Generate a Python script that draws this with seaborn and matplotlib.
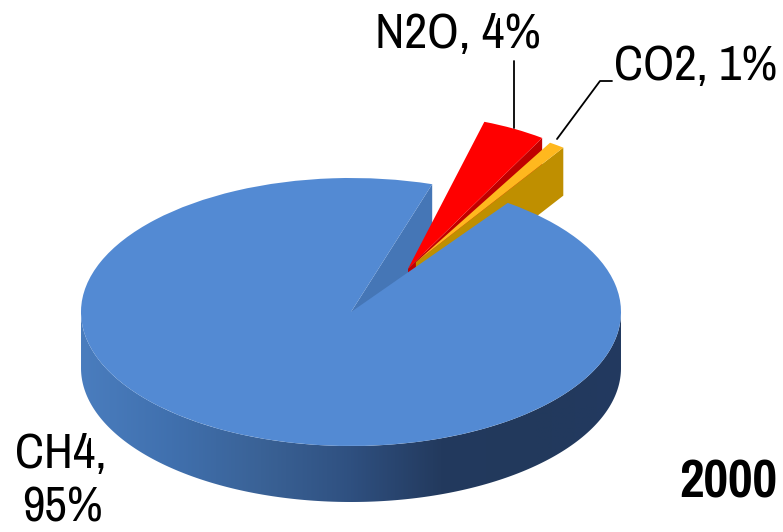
import matplotlib
matplotlib.use("Agg")
import matplotlib.pyplot as plt
import numpy as np
import seaborn as sns
from matplotlib.colors import LinearSegmentedColormap
from matplotlib.lines import Line2D
from matplotlib.patches import Polygon
from matplotlib.transforms import Affine2D

# Emissions share by gas
gases = ["CH4", "N2O", "CO2"]
shares = [95, 4, 1]
year_label = "2000"
offsets = [0, 0.47, 0.42]

top_colors = ["#538AD3", "#FF0000", "#FFB81E"]
wall_colors = ["#4576B6", "#C00000", "#BF8F00"]
rim_stops = ["#4A7DBE", "#4070AE", "#3A6296", "#2F5080", "#233A5E", "#22395C", "#223A60"]

WIDTH, HEIGHT = 783, 532
CX, CY, RX, RY = 351, 312, 270, 134
DEPTH = 56 / RY
SLICE_DEPTH = 48 / RY
FIRST_ANGLE = 54.5

sns.set_theme(style="white")
plt.rcParams["font.family"] = ["Pragati Narrow", "Archivo Narrow", "Roboto Condensed",
                               "Liberation Sans", "DejaVu Sans"]

fig = plt.figure(figsize=(WIDTH / 100, HEIGHT / 100), dpi=100, facecolor="white")
ax = fig.add_axes([0, 0, 1, 1])

wedges, _ = ax.pie(
    shares,
    colors=sns.color_palette(top_colors),
    explode=offsets,
    startangle=FIRST_ANGLE,
    counterclock=False,
    wedgeprops={"linewidth": 0},
)
ax.set_aspect("auto")
ax.axis("off")


def set_limits():
    ax.set_xlim(-CX / RX, (WIDTH - CX) / RX)
    ax.set_ylim((CY - HEIGHT) / RY, CY / RY)


set_limits()


def cut_wall(wedge, angle, depth, color, z, view=None):
    """Flat radial face of a slice, dropped by the slice's thickness."""
    cx, cy = wedge.center
    a = np.deg2rad(angle)
    rim = (cx + wedge.r * np.cos(a), cy + wedge.r * np.sin(a))
    pts = np.array([(cx, cy), rim])
    if view is not None:
        pts = view.transform(pts)
    pts = np.vstack([pts, pts[::-1] - [0, depth]])
    ax.add_patch(Polygon(pts, closed=True, facecolor=color, edgecolor="none", zorder=z))


def settle(wedge, nudge_px, sx, sy):
    """Move a detached slice and foreshorten it around its own tip."""
    cx, cy = wedge.center
    cx += nudge_px[0] / RX
    cy -= nudge_px[1] / RY
    wedge.set_center((cx, cy))
    view = Affine2D().translate(-cx, -cy).scale(sx, sy).translate(cx, cy)
    wedge.set_transform(view + ax.transData)
    return view


main, n2o, co2 = wedges
n2o_view = settle(n2o, (4, 14), 0.94, 1.15)
co2_view = settle(co2, (2, -3), 0.94, 1.05)

# Rim of the large slice, shaded from left to right
t = np.linspace(np.pi, 2 * np.pi, 240)
upper = np.column_stack([np.cos(t), np.sin(t)])
lower = upper[::-1] - [0, DEPTH]
rim_clip = Polygon(np.vstack([upper, lower]), closed=True, transform=ax.transData)
shade = LinearSegmentedColormap.from_list("rim", sns.blend_palette(rim_stops, 64))
img = ax.imshow(
    np.linspace(0, 1, 256)[None, :],
    extent=(-1, 1, -1 - DEPTH, 0),
    aspect="auto",
    cmap=shade,
    zorder=1,
)
img.set_clip_path(rim_clip)
set_limits()

# Back to front: notch wall, detached slices, then the large top face
cut_wall(main, main.theta1, DEPTH, wall_colors[0], 2)
cut_wall(n2o, n2o.theta1, SLICE_DEPTH, wall_colors[1], 3, n2o_view)
n2o.set_zorder(4)
cut_wall(co2, co2.theta1, SLICE_DEPTH, wall_colors[2], 5, co2_view)
co2.set_zorder(6)
main.set_zorder(7)


def fx(px):
    return px / WIDTH


def fy(py):
    return 1 - py / HEIGHT


def label(px, py, text, size, weight="normal", ha="left"):
    fig.text(fx(px), fy(py), text, fontsize=size, fontweight=weight, ha=ha,
             va="baseline", color="black", zorder=10)


def leader(xs, ys):
    fig.add_artist(Line2D([fx(x) for x in xs], [fy(y) for y in ys],
                          color="black", lw=1.3, zorder=10))


label(375, 48, f"{gases[1]}, {shares[1]}%", 39)
label(614, 80, f"{gases[2]}, {shares[2]}%", 38.5)
label(61, 468, f"{gases[0]},", 38.5, ha="center")
label(62, 522, f"{shares[0]}%", 38.5, ha="center")
label(777, 498, year_label, 42, weight="bold", ha="right")

leader([514, 514], [61, 128])
leader([557, 600, 612], [139, 81, 81])

fig.savefig("out.png", dpi=100)
